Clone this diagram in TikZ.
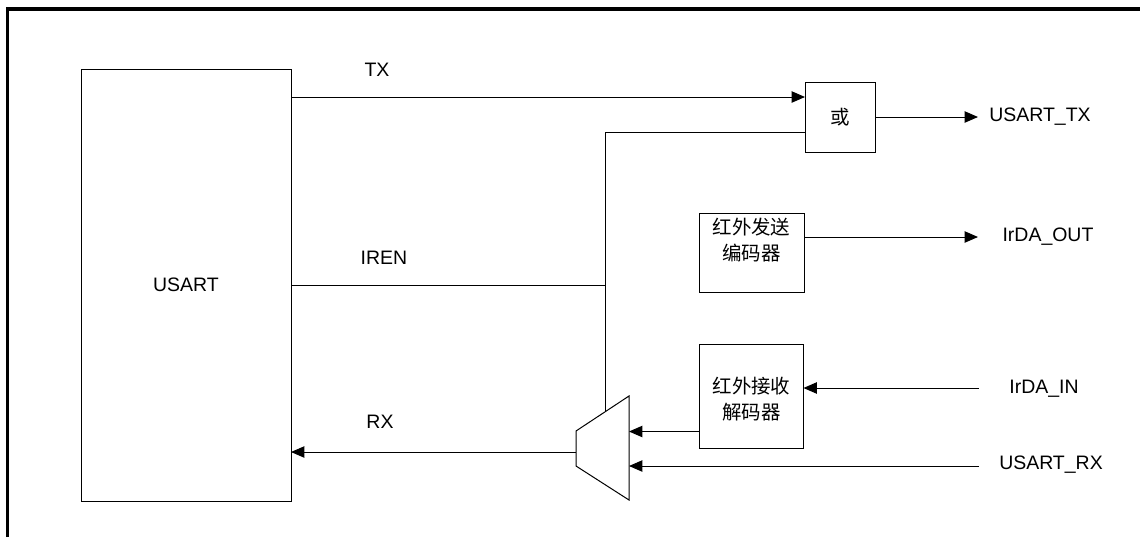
\documentclass[tikz,border=0pt]{standalone}
\usepackage{fontspec}
\setmainfont{Liberation Sans}
\newfontfamily\cjk{Noto Sans CJK SC}
\usetikzlibrary{arrows.meta}
\begin{document}
\begin{tikzpicture}[x=0.75pt,y=-0.75pt,
  blk/.style={draw, line width=0.75pt, inner sep=0pt, outer sep=0pt},
  lbl/.style={font=\fontsize{14.6pt}{18pt}\selectfont, inner sep=0pt},
  cjklbl/.style={font=\cjk\fontsize{14.6pt}{19pt}\selectfont, inner sep=0pt, align=center},
  wire/.style={line width=0.75pt},
  arr/.style={wire, -{Triangle[length=10pt,width=8.5pt]}},
]
\useasboundingbox (0,0) rectangle (1140,537);
% frame
\draw[line width=2.5pt] (7.5,537) -- (7.5,9) -- (1140,9);

% blocks
\node[blk, minimum width=157.5pt, minimum height=324pt] (usart) at (186,285) {};
\node[lbl] (usartlbl) at (186,285) {USART};
\node[blk, minimum width=52.5pt, minimum height=52.5pt] (orbox) at (840,117.5) {};
\node[cjklbl] (orlbl) at (840,117.5) {或};
\node[blk, minimum width=78.75pt, minimum height=59.25pt] (enc) at (751.5,252.5) {};
\node[cjklbl] (enclbl) at (751.5,240) {红外发送\\编码器};
\node[blk, minimum width=78pt, minimum height=78pt] (dec) at (751.5,396) {};
\node[cjklbl] (declbl) at (751.5,399) {红外接收\\解码器};

% multiplexer
\coordinate (m1) at (576,431);
\coordinate (m2) at (629,396);
\coordinate (m3) at (629,500);
\coordinate (m4) at (576,466);
\draw[wire] (m1) -- (m2) -- (m3) -- (m4) -- cycle;
\coordinate (mtop) at (605,411.8);
\coordinate (mout) at (576,452);
\coordinate (min1) at (629,431.5);
\coordinate (min2) at (629,466);

% junctions / row coordinates
\coordinate (j) at (605,132);
\coordinate (ij) at (605,285);
\coordinate (txy) at (0,97);
\coordinate (txout) at (978,117);
\coordinate (irout) at (978,237);
\coordinate (irin) at (979,388);
\coordinate (rxin) at (979,466);

% connectors
\draw[arr] (usart.east |- txy) -- (orbox.west |- txy);
\draw[wire] (mtop) -- (j) -- (orbox.west |- j);
\draw[wire] (usart.east |- ij) -- (ij);
\draw[arr] (orbox.east |- txout) -- (txout);
\draw[arr] (enc.east |- irout) -- (irout);
\draw[arr] (irin) -- (dec.east |- irin);
\draw[arr] (dec.west |- min1) -- (min1);
\draw[arr] (rxin) -- (min2);
\draw[arr] (mout) -- (usart.east |- mout);

% labels
\node[lbl] (txl) at (377,70) {TX};
\node[lbl] (irenl) at (384,258) {IREN};
\node[lbl] (rxl) at (380,422) {RX};
\node[lbl] (utx) at (1040,117) {USART\_TX};
\node[lbl] (iout) at (1048,237) {IrDA\_OUT};
\node[lbl] (iin) at (1044,389) {IrDA\_IN};
\node[lbl] (urx) at (1051,465) {USART\_RX};
\end{tikzpicture}
\end{document}
